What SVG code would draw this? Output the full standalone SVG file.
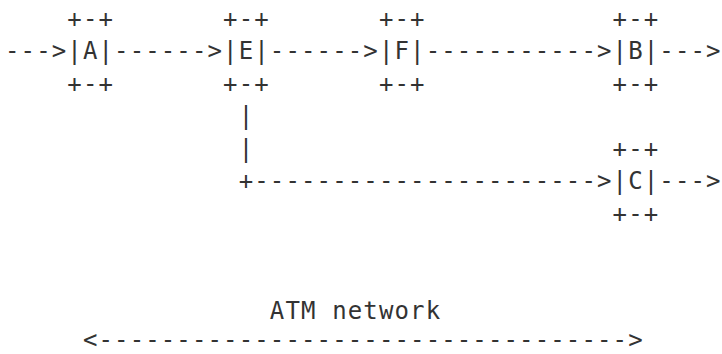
<svg xmlns="http://www.w3.org/2000/svg" width="722" height="354" viewBox="0 0 722 354">
<style>
text{font-family:"DejaVu Sans Mono","Liberation Mono",monospace;font-size:24px;letter-spacing:1.13px;fill:#333;white-space:pre}
</style>
<rect width="722" height="354" fill="#fff"/>
<g id="connectors">
<text x="5" y="59">---&gt;</text>
<text x="114.06" y="59">------&gt;</text>
<text x="269.86" y="59">------&gt;</text>
<text x="425.66" y="59">-----------&gt;</text>
<text x="659.36" y="59">---&gt;</text>
<text x="238.7" y="124">|</text>
<text x="238.7" y="156.5">|</text>
<text x="238.7" y="189">+----------------------&gt;</text>
<text x="659.36" y="189">---&gt;</text>
</g>
<g id="node-A">
<text x="67.32" y="26.5">+-+</text>
<text x="67.32" y="59">|A|</text>
<text x="67.32" y="91.5">+-+</text>
</g>
<g id="node-E">
<text x="223.12" y="26.5">+-+</text>
<text x="223.12" y="59">|E|</text>
<text x="223.12" y="91.5">+-+</text>
</g>
<g id="node-F">
<text x="378.92" y="26.5">+-+</text>
<text x="378.92" y="59">|F|</text>
<text x="378.92" y="91.5">+-+</text>
</g>
<g id="node-B">
<text x="612.62" y="26.5">+-+</text>
<text x="612.62" y="59">|B|</text>
<text x="612.62" y="91.5">+-+</text>
</g>
<g id="node-C">
<text x="612.62" y="156.5">+-+</text>
<text x="612.62" y="189">|C|</text>
<text x="612.62" y="221.5">+-+</text>
</g>
<g id="atm-network">
<text x="269.86" y="319">ATM network</text>
<text x="82.9" y="348">&lt;----------------------------------&gt;</text>
</g>
</svg>
